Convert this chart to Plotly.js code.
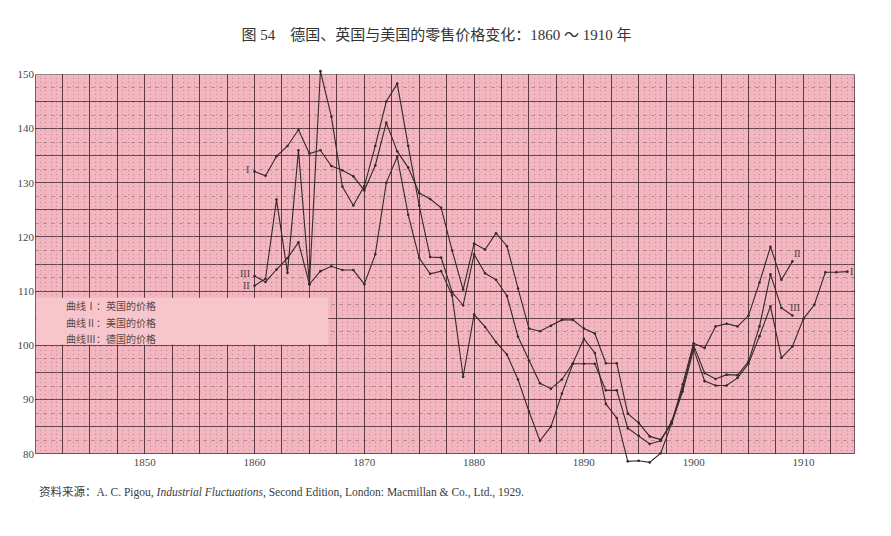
<!DOCTYPE html>
<html>
<head>
<meta charset="utf-8">
<script src="https://cdn.plot.ly/plotly-3.0.1.min.js"></script>
<style>
  html, body { margin:0; padding:0; background:#ffffff; }
  #chart { width:891px; height:536px; }
</style>
</head>
<body>
<div id="chart"></div>
<script>
// ---- data ----
const yearsUK = [1860,1861,1862,1863,1864,1865,1866,1867,1868,1869,1870,1871,1872,1873,1874,1875,1876,1877,1878,1879,1880,1881,1882,1883,1884,1885,1886,1887,1888,1889,1890,1891,1892,1893,1894,1895,1896,1897,1898,1899,1900,1901,1902,1903,1904,1905,1906,1907,1908,1909,1910,1911,1912,1913,1914];
const curveI = [132.1,131.3,134.9,136.8,139.8,135.4,136.0,133.1,132.3,131.2,128.6,133.2,141.1,135.8,132.8,128.1,127.0,125.4,117.5,110.3,118.8,117.7,120.7,118.3,110.5,103.1,102.6,103.6,104.7,104.7,103.1,102.2,96.7,96.7,87.4,85.7,83.2,82.6,85.6,91.5,99.3,93.4,92.6,92.6,94.0,96.6,101.7,107.2,97.7,99.8,104.9,107.5,113.5,113.5,113.6];

const yearsUS_DE = [1860,1861,1862,1863,1864,1865,1866,1867,1868,1869,1870,1871,1872,1873,1874,1875,1876,1877,1878,1879,1880,1881,1882,1883,1884,1885,1886,1887,1888,1889,1890,1891,1892,1893,1894,1895,1896,1897,1898,1899,1900,1901,1902,1903,1904,1905,1906,1907,1908,1909];
const curveII = [111.0,112.3,126.9,113.4,136.0,111.3,150.6,142.2,129.3,125.8,129.4,136.8,145.0,148.3,136.8,125.8,116.3,116.2,109.8,107.4,116.8,113.3,112.1,109.1,101.6,97.2,93.0,92.0,93.7,96.7,101.2,98.6,89.2,86.6,78.6,78.7,78.4,80.1,85.6,92.8,100.4,99.5,103.5,104.0,103.5,105.5,111.6,118.2,112.1,115.5];
const curveIII = [112.8,111.7,114.0,116.1,119.0,111.3,113.7,114.6,113.9,113.9,111.3,116.8,130.0,134.8,124.1,116.1,113.2,113.7,109.2,94.2,105.7,103.4,100.6,98.3,93.7,87.8,82.4,85.0,91.1,96.6,96.6,96.6,91.7,91.7,84.7,83.3,81.8,82.4,86.0,92.0,100.0,94.9,93.8,94.6,94.5,97.0,103.5,113.1,106.9,105.5];

const xTickLabels = ["1850","1860","1870","1880","1890","1900","1910"];
const yTickLabels = ["80","90","100","110","120","130","140","150"];

const titleText = "图 54　德国、英国与美国的零售价格变化：1860 ～ 1910 年";
const legendLines = ["曲线Ⅰ：英国的价格","曲线Ⅱ：美国的价格","曲线Ⅲ：德国的价格"];
const sourceText = "资料来源：A. C. Pigou, <i>Industrial Fluctuations</i>, Second Edition, London: Macmillan &amp; Co., Ltd., 1929.";

// ---- styling / construction ----
const X0 = 1840, X1 = 1914.7, YMIN = 77, YMAX = 151, YLO = 80, YHI = 150;
const serif = "'Liberation Serif', 'Times New Roman', 'Noto Sans CJK SC', serif";
const cjk = "'Liberation Serif', 'Noto Sans CJK SC', serif";
const ink = "#35282a";

const xMajor = [], xMajorText = [];
for (let v = X0; v <= X1; v += 2.5) {
  xMajor.push(v);
  const s = String(v);
  xMajorText.push(xTickLabels.indexOf(s) >= 0 ? s : "");
}
const yMajor = [], yMajorText = [];
for (let v = YLO; v <= YHI; v += 5) {
  yMajor.push(v);
  const s = String(v);
  yMajorText.push(yTickLabels.indexOf(s) >= 0 ? s : "");
}

const lineStyle = {color: ink, width: 1.1};
const markerStyle = {size: 2.6, color: ink};
// traces live on a slightly taller overlay subplot so the dip below 80 is drawn
const traces = [
  {x: yearsUK, y: curveI, name: "I", mode: "lines+markers", line: lineStyle, marker: markerStyle, xaxis:"x2", yaxis:"y2"},
  {x: yearsUS_DE, y: curveII, name: "II", mode: "lines+markers", line: lineStyle, marker: markerStyle, xaxis:"x2", yaxis:"y2"},
  {x: yearsUS_DE, y: curveIII, name: "III", mode: "lines+markers", line: lineStyle, marker: markerStyle, xaxis:"x2", yaxis:"y2"}
];

const shapes = [
  // pink graph paper
  {type:"rect", layer:"below", xref:"x", yref:"y", x0:X0, x1:X1, y0:YLO, y1:YHI,
   fillcolor:"#f3b6c0", line:{width:0}},
  // legend box
  {type:"rect", layer:"between", xref:"x", yref:"y", x0:X0+0.1, x1:1866.7, y0:100.1, y1:108.8,
   fillcolor:"#f6c6cc", line:{width:0}},
  // frame
  {type:"rect", layer:"between", xref:"x", yref:"y", x0:X0, x1:X1, y0:YLO, y1:YHI,
   fillcolor:"rgba(0,0,0,0)", line:{color:"#3d2a2d", width:1.3}}
];

const labelFont = {family: serif, size: 10, color: "#4a3a3c"};
const annotations = [
  {x:1859.4, y:132.5, text:"I", showarrow:false, font:labelFont, xanchor:"center"},
  {x:1859.1, y:113.2, text:"III", showarrow:false, font:labelFont, xanchor:"center"},
  {x:1859.3, y:111.0, text:"II", showarrow:false, font:labelFont, xanchor:"center"},
  {x:1909.5, y:116.9, text:"II", showarrow:false, font:labelFont, xanchor:"center"},
  {x:1909.2, y:107.0, text:"III", showarrow:false, font:labelFont, xanchor:"center"},
  {x:1914.4, y:113.6, text:"I", showarrow:false, font:labelFont, xanchor:"center"}
];
const legendY = [107.2, 104.2, 101.2];
legendLines.forEach((t, i) => {
  annotations.push({x:1842.6, y:legendY[i], text:t, showarrow:false, xanchor:"left", yanchor:"middle",
    font:{family:cjk, size:10, color:"#5a4547"}});
});
annotations.push({xref:"paper", yref:"paper", x:0.0025, y:-0.054, xanchor:"left", yanchor:"middle",
  text:sourceText, showarrow:false, font:{family:cjk, size:11.5, color:"#3c3c3c"}});

const gridDomain = [(YLO - YMIN) / (YMAX - YMIN), (YHI - YMIN) / (YMAX - YMIN)];

const layout = {
  width: 891, height: 536,
  margin: {l:35, r:36, t:69, b:65.7, pad:0},
  paper_bgcolor: "#ffffff",
  plot_bgcolor: "rgba(0,0,0,0)",
  showlegend: false,
  title: {text: titleText, x: 0.49, xanchor: "center", y: 1 - 35/536, yanchor: "middle", yref: "container",
          font: {family: cjk, size: 15, color: "#333333"}},
  xaxis: {
    range: [X0, X1], domain: [0, 1], anchor: "y",
    tickmode: "array", tickvals: xMajor, ticktext: xMajorText,
    showgrid: true, gridcolor: "rgba(50,28,32,0.78)", gridwidth: 1,
    minor: {tick0: X0, dtick: 0.5, showgrid: true, gridcolor: "rgba(60,35,40,0.3)", gridwidth: 1, griddash: "1px,3px"},
    showline: false, zeroline: false, ticks: "",
    tickfont: {family: serif, size: 11, color: "#4a4a4a"}
  },
  yaxis: {
    range: [YLO, YHI], domain: gridDomain, anchor: "x",
    tickmode: "array", tickvals: yMajor, ticktext: yMajorText,
    showgrid: true, gridcolor: "rgba(50,28,32,0.68)", gridwidth: 1,
    minor: {tick0: YLO, dtick: 2.5, showgrid: true, gridcolor: "rgba(60,35,40,0.3)", gridwidth: 1, griddash: "4px,4px"},
    showline: false, zeroline: false, ticks: "",
    tickfont: {family: serif, size: 11, color: "#4a4a4a"}
  },
  xaxis2: {range: [X0, X1], domain: [0, 1], anchor: "y2", visible: false, showgrid: false, zeroline: false},
  yaxis2: {range: [YMIN, YMAX], domain: [0, 1], anchor: "x2", visible: false, showgrid: false, zeroline: false},
  shapes: shapes,
  annotations: annotations
};

Plotly.newPlot("chart", traces, layout, {displayModeBar: false, staticPlot: true});
</script>
</body>
</html>
